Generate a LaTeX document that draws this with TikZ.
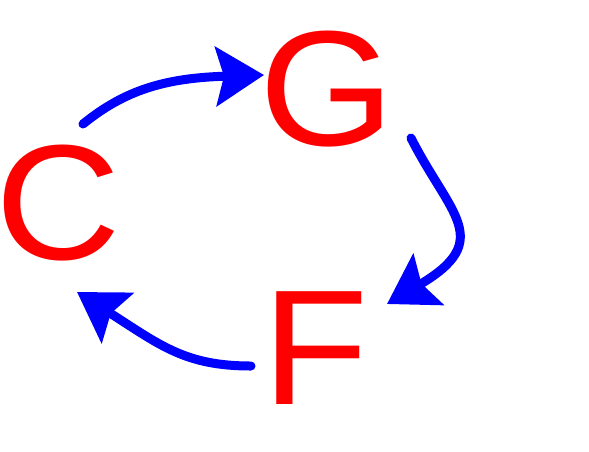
\documentclass[tikz,border=0pt]{standalone}
\usepackage{fontspec}
\setmainfont{Liberation Sans}
\usetikzlibrary{arrows.meta}
\definecolor{nred}{RGB}{255,0,0}
\definecolor{nblue}{RGB}{0,0,255}
\begin{document}
\begin{tikzpicture}[x=1pt,y=-1pt,
  letter/.style={inner sep=0pt,outer sep=0pt,anchor=base west,text=nred,
    font=\fontsize{164}{166}\selectfont},
  cyclearrow/.style={draw=nblue,line width=9pt,line cap=round,
    -{Stealth[length=48pt,width=59pt,inset=8pt]}}]
\useasboundingbox (0,0) rectangle (589,451);
\node[letter] (G) at (259,145) {\scalebox{1.06}[1]{G}};
\node[letter] (C) at (4,259.5) {\kern-8pt\scalebox{1.06}[1]{C}};
\node[letter] (F) at (262,404) {\scalebox{1.06}[1]{F}};
\draw[cyclearrow] ([shift={(79,-135.5)}]C.base west) .. controls (125,90) and (165,78) .. ([shift={(5,-70)}]G.base west);
\draw[cyclearrow] ([shift={(152,-7)}]G.base west) .. controls (450,215) and (495,240) .. ([shift={(125,-100)}]F.base west);
\draw[cyclearrow] ([shift={(-11,-38)}]F.base west) .. controls (185,366) and (160,345) .. ([shift={(73,32.5)}]C.base west);
\end{tikzpicture}
\end{document}
